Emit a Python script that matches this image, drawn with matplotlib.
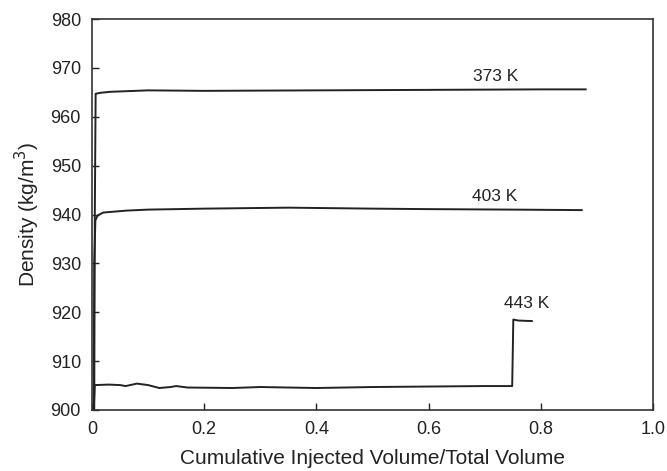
import matplotlib
matplotlib.use("Agg")
from matplotlib import pyplot as plt

plt.rcParams["font.family"] = ["Liberation Sans", "DejaVu Sans"]

# 373 K
x_373 = [0.0, 0.004, 0.005, 0.0065, 0.015, 0.032, 0.1, 0.2, 0.4, 0.6, 0.8, 0.88]
y_373 = [900.0, 900.0, 940.0, 964.7, 964.9, 965.1, 965.4, 965.3, 965.4, 965.5, 965.6, 965.6]

# 403 K
x_403 = [0.0, 0.003, 0.004, 0.006, 0.01, 0.02, 0.062, 0.1, 0.2, 0.35, 0.5, 0.6, 0.75, 0.873]
y_403 = [900.0, 900.0, 930.0, 938.8, 939.8, 940.4, 940.8, 941.0, 941.2, 941.4, 941.2, 941.1, 941.0, 940.9]

# 443 K
x_443 = [0.0, 0.003, 0.005, 0.03, 0.05, 0.06, 0.08, 0.1, 0.12, 0.14, 0.15, 0.17, 0.25,
         0.3, 0.4, 0.5, 0.6, 0.7, 0.749, 0.751, 0.76, 0.784]
y_443 = [900.0, 900.0, 905.1, 905.2, 905.1, 904.9, 905.4, 905.1, 904.5, 904.7, 904.9, 904.6, 904.5,
         904.7, 904.5, 904.7, 904.8, 904.9, 904.9, 918.5, 918.3, 918.2]

labels = ["373 K", "403 K", "443 K"]
label_pos = [(0.72, 968.2), (0.717, 943.7), (0.775, 921.8)]

fig = plt.figure(figsize=(6.67, 4.71), dpi=100)
ax = fig.add_axes([92 / 667, 61 / 471, 561 / 667, 391 / 471])

line_kw = dict(color="#222222", lw=1.4)
ax.plot(x_373, y_373, **line_kw)
ax.plot(x_403, y_403, **line_kw)
ax.plot(x_443, y_443, **line_kw)

for text, (lx, ly) in zip(labels, label_pos):
    ax.text(lx, ly, text, fontsize=12.5, ha="center", va="center", color="#222222")

ax.set_xlim(0, 1.0)
ax.set_ylim(900, 980)
ax.set_xticks([0, 0.2, 0.4, 0.6, 0.8, 1.0])
ax.set_xticklabels(["0", "0.2", "0.4", "0.6", "0.8", "1.0"])
ax.set_yticks(range(900, 981, 10))
ax.tick_params(direction="in", labelsize=13, length=5, width=1, colors="#222222", pad=8)
for s in ax.spines.values():
    s.set_linewidth(1.2)
    s.set_color("#333333")

ax.set_xlabel("Cumulative Injected Volume/Total Volume", fontsize=15, labelpad=8, color="#222222")
ax.set_ylabel("Density (kg/m$^3$)", fontsize=15, labelpad=6, color="#222222")

fig.savefig("out.png", dpi=100)
